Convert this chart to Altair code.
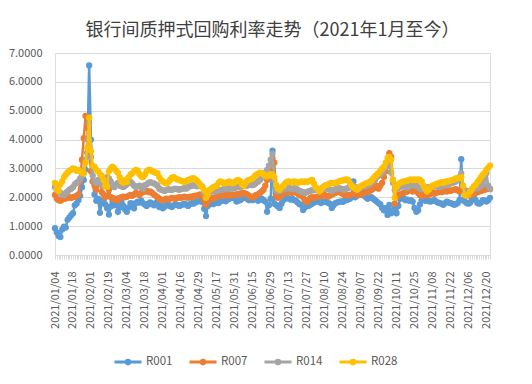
import altair as alt
import pandas as pd

TITLE = "银行间质押式回购利率走势（2021年1月至今）"
SERIES = ["R001", "R007", "R014", "R028"]
COLORS = ["#5B9BD5", "#ED7D31", "#A5A5A5", "#FFC000"]

# trading days (interbank market, 2021)
trading_days = {
    1: [4, 5, 6, 7, 8, 11, 12, 13, 14, 15, 18, 19, 20, 21, 22, 25, 26, 27, 28, 29],
    2: [1, 2, 3, 4, 5, 7, 8, 9, 10, 18, 19, 20, 22, 23, 24, 25, 26],
    3: [1, 2, 3, 4, 5, 8, 9, 10, 11, 12, 15, 16, 17, 18, 19, 22, 23, 24, 25, 26, 29, 30, 31],
    4: [1, 2, 6, 7, 8, 9, 12, 13, 14, 15, 16, 19, 20, 21, 22, 23, 25, 26, 27, 28, 29, 30],
    5: [6, 7, 8, 10, 11, 12, 13, 14, 17, 18, 19, 20, 21, 24, 25, 26, 27, 28, 31],
    6: [1, 2, 3, 4, 7, 8, 9, 10, 11, 15, 16, 17, 18, 21, 22, 23, 24, 25, 28, 29, 30],
    7: [1, 2, 5, 6, 7, 8, 9, 12, 13, 14, 15, 16, 19, 20, 21, 22, 23, 26, 27, 28, 29, 30],
    8: [2, 3, 4, 5, 6, 9, 10, 11, 12, 13, 16, 17, 18, 19, 20, 23, 24, 25, 26, 27, 30, 31],
    9: [1, 2, 3, 6, 7, 8, 9, 10, 13, 14, 15, 16, 17, 18, 22, 23, 24, 26, 27, 28, 29, 30],
    10: [8, 9, 11, 12, 13, 14, 15, 18, 19, 20, 21, 22, 25, 26, 27, 28, 29],
    11: [1, 2, 3, 4, 5, 8, 9, 10, 11, 12, 15, 16, 17, 18, 19, 22, 23, 24, 25, 26, 29, 30],
    12: [1, 2, 3, 6, 7, 8, 9, 10, 13, 14, 15, 16, 17, 20, 21, 22],
}
dates = [f"2021/{m:02d}/{d:02d}" for m, days in trading_days.items() for d in days]

tick_labels = ["2021/01/04", "2021/01/18", "2021/02/01", "2021/02/19", "2021/03/04",
               "2021/03/18", "2021/04/01", "2021/04/16", "2021/04/29", "2021/05/17",
               "2021/05/31", "2021/06/15", "2021/06/29", "2021/07/13", "2021/07/27",
               "2021/08/10", "2021/08/24", "2021/09/07", "2021/09/22", "2021/10/11",
               "2021/10/25", "2021/11/08", "2021/11/22", "2021/12/06", "2021/12/20"]

R001 = [
    0.93, 0.78, 0.66, 0.62, 0.88, 0.98, 0.95, 1.22, 1.30, 1.38,
    1.45, 1.72, 1.78, 1.90, 2.05, 2.35, 2.60, 2.95, 3.55, 6.57,
    4.00, 2.55, 2.10, 1.88, 1.95, 1.46, 1.80, 1.90, 1.75, 1.62,
    1.40, 1.68, 1.85, 1.72, 1.80, 1.50, 1.65, 1.82, 1.70, 1.58,
    1.50, 1.65, 1.80, 1.78, 1.62, 1.80, 1.85, 1.82, 1.88, 1.80,
    1.75, 1.70, 1.78, 1.82, 1.76, 1.72, 1.80, 1.85, 1.66, 1.70,
    1.62, 1.68, 1.72, 1.75, 1.70, 1.66, 1.72, 1.76, 1.74, 1.70,
    1.72, 1.75, 1.78, 1.74, 1.70, 1.76, 1.80, 1.78, 1.82, 1.85,
    1.86, 1.88, 1.84, 1.60, 1.35, 1.70, 1.78, 1.80, 1.76, 1.80,
    1.82, 1.80, 1.86, 1.88, 1.90, 1.86, 1.92, 1.95, 1.98, 2.00,
    1.96, 1.85, 1.88, 1.90, 1.95, 1.98, 2.00, 1.94, 1.90, 1.95,
    1.90, 1.95, 1.98, 1.88, 1.92, 1.95, 1.90, 1.85, 1.50, 1.72,
    1.95, 3.62, 1.78, 1.74, 1.68, 1.63, 1.78, 1.90, 1.95, 1.98,
    1.96, 1.92, 1.95, 1.90, 1.88, 1.82, 1.76, 1.74, 1.56, 1.65,
    1.72, 1.70, 1.74, 1.78, 1.82, 1.84, 1.88, 1.85, 1.80, 1.84,
    1.86, 1.84, 1.80, 1.78, 1.63, 1.72, 1.80, 1.82, 1.84, 1.86,
    1.84, 1.88, 1.90, 1.92, 1.95, 2.00, 2.55, 2.00, 2.05, 2.10,
    2.15, 2.10, 2.05, 2.00, 1.95, 1.98, 2.00, 1.95, 1.90, 1.85,
    1.80, 1.75, 1.63, 1.55, 1.62, 1.39, 1.74, 1.45, 1.55, 1.62,
    1.45, 1.70, 1.95, 2.00, 1.95, 1.90, 1.92, 1.88, 1.90, 1.85,
    1.63, 1.50, 1.55, 1.75, 1.90, 1.92, 1.88, 1.90, 1.86, 1.85,
    1.88, 1.90, 1.85, 1.82, 1.80, 1.78, 1.74, 1.80, 1.85, 1.82,
    1.80, 1.78, 1.74, 1.76, 1.80, 1.90, 3.32, 1.90, 1.85, 1.80,
    1.78, 1.82, 1.95, 1.98, 1.90, 1.80, 1.78, 1.82, 1.90, 1.88,
    1.85, 1.90, 1.98,
]
R007 = [
    2.08, 1.95, 1.90, 1.88, 1.92, 1.95, 1.96, 1.98, 2.00, 1.98,
    2.00, 2.02, 2.05, 2.10, 2.55, 3.30, 4.05, 4.82, 4.40, 3.75,
    2.90, 2.55, 2.40, 2.26, 2.45, 2.55, 2.18, 2.10, 2.00, 2.05,
    2.26, 2.00, 1.98, 1.92, 1.95, 1.90, 1.98, 2.00, 2.02, 2.00,
    2.02, 2.05, 2.08, 2.05, 2.10, 2.15, 2.12, 2.08, 2.15, 2.18,
    2.20, 2.22, 2.18, 2.20, 2.15, 2.10, 2.05, 2.00, 1.95, 1.92,
    1.90, 1.92, 1.95, 1.92, 1.95, 1.98, 1.96, 1.95, 1.98, 2.00,
    1.98, 2.00, 2.02, 2.00, 1.98, 2.02, 2.00, 2.04, 2.06, 2.05,
    2.08, 2.10, 2.06, 1.90, 1.74, 1.85, 1.95, 1.98, 1.95, 2.00,
    2.02, 2.05, 2.04, 2.06, 2.08, 2.05, 2.08, 2.10, 2.06, 2.10,
    2.08, 2.10, 2.12, 2.10, 2.14, 2.15, 2.12, 2.10, 2.05, 2.02,
    2.00, 2.04, 2.08, 2.10, 2.15, 2.20, 2.26, 2.40, 2.60, 2.85,
    3.05, 3.35, 3.20, 2.05, 1.98, 2.00, 2.08, 2.12, 2.15, 2.18,
    2.20, 2.18, 2.15, 2.20, 2.18, 2.12, 2.08, 2.05, 2.00, 1.90,
    1.84, 1.90, 1.98, 2.00, 1.98, 2.00, 2.02, 2.05, 2.04, 2.06,
    2.08, 2.05, 2.02, 2.06, 2.10, 2.12, 2.15, 2.18, 2.20, 2.16,
    2.12, 2.08, 2.10, 2.06, 2.08, 2.10, 2.12, 2.15, 2.10, 2.08,
    2.10, 2.12, 2.15, 2.20, 2.18, 2.22, 2.25, 2.30, 2.35, 2.40,
    2.30, 2.40, 2.50, 2.70, 2.90, 3.20, 3.53, 3.40, 2.60, 1.78,
    2.00, 2.08, 2.10, 2.12, 2.15, 2.18, 2.20, 2.25, 2.26, 2.20,
    2.45, 2.30, 2.15, 2.08, 2.05, 2.10, 2.08, 2.06, 2.10, 2.12,
    2.15, 2.12, 2.15, 2.18, 2.20, 2.18, 2.20, 2.22, 2.20, 2.24,
    2.22, 2.25, 2.26, 2.28, 2.24, 2.20, 2.26, 2.30, 2.15, 2.08,
    2.05, 2.08, 2.10, 2.12, 2.15, 2.18, 2.20, 2.22, 2.24, 2.26,
    2.28, 2.30, 2.28,
]
R014 = [
    2.35, 2.25, 2.20, 2.15, 2.10, 2.08, 2.15, 2.20, 2.26, 2.30,
    2.35, 2.45, 2.50, 2.55, 2.65, 2.75, 2.85, 3.30, 4.00, 4.55,
    3.40, 2.75, 2.55, 2.50, 2.60, 2.50, 2.45, 2.40, 2.55, 2.70,
    2.65, 2.55, 2.40, 2.35, 2.45, 2.50, 2.40, 2.38, 2.36, 2.40,
    2.45, 2.50, 2.53, 2.48, 2.40, 2.36, 2.38, 2.40, 2.35, 2.30,
    2.42, 2.45, 2.50, 2.52, 2.50, 2.48, 2.45, 2.40, 2.30, 2.26,
    2.24, 2.22, 2.25, 2.28, 2.26, 2.25, 2.28, 2.30, 2.28, 2.26,
    2.28, 2.30, 2.32, 2.30, 2.35, 2.38, 2.40, 2.42, 2.40, 2.38,
    2.40, 2.42, 2.35, 2.15, 2.00, 2.10, 2.18, 2.20, 2.22, 2.20,
    2.22, 2.24, 2.25, 2.26, 2.28, 2.30, 2.28, 2.32, 2.30, 2.34,
    2.32, 2.35, 2.36, 2.34, 2.38, 2.40, 2.42, 2.40, 2.43, 2.45,
    2.42, 2.45, 2.50, 2.55, 2.60, 2.68, 2.75, 2.85, 2.95, 3.10,
    3.30, 3.50, 2.60, 2.25, 2.20, 2.22, 2.26, 2.28, 2.30, 2.32,
    2.35, 2.30, 2.28, 2.32, 2.30, 2.26, 2.22, 2.20, 2.18, 2.15,
    2.18, 2.20, 2.22, 2.25, 2.24, 2.26, 2.28, 2.26, 2.24, 2.28,
    2.30, 2.32, 2.28, 2.26, 2.22, 2.25, 2.28, 2.30, 2.32, 2.30,
    2.28, 2.26, 2.30, 2.32, 2.35, 2.38, 2.40, 2.36, 2.32, 2.30,
    2.32, 2.35, 2.38, 2.40, 2.42, 2.45, 2.50, 2.55, 2.60, 2.70,
    2.75, 2.80, 2.85, 2.95, 3.05, 3.20, 3.10, 2.85, 2.50, 2.25,
    2.30, 2.32, 2.35, 2.38, 2.40, 2.36, 2.34, 2.38, 2.40, 2.42,
    2.45, 2.40, 2.35, 2.30, 2.28, 2.30, 2.32, 2.34, 2.36, 2.35,
    2.36, 2.38, 2.40, 2.38, 2.36, 2.38, 2.40, 2.42, 2.44, 2.45,
    2.48, 2.50, 2.52, 2.55, 2.60, 2.70, 2.84, 2.40, 2.25, 2.20,
    2.20, 2.22, 2.25, 2.28, 2.30, 2.32, 2.35, 2.40, 2.45, 2.60,
    2.84, 2.40, 2.30,
]
R028 = [
    2.50, 2.30, 2.22, 2.45, 2.55, 2.70, 2.78, 2.85, 2.92, 2.95,
    3.00, 2.98, 2.92, 2.95, 2.90, 2.85, 2.82, 3.20, 3.70, 4.76,
    3.60, 3.10, 3.05, 2.95, 2.90, 2.80, 2.75, 2.60, 2.40, 2.36,
    2.90, 3.00, 3.06, 3.00, 2.92, 2.85, 2.70, 2.55, 2.50, 2.60,
    2.53, 2.70, 2.78, 2.84, 2.90, 2.95, 2.92, 2.80, 2.72, 2.70,
    2.78, 2.90, 2.95, 2.95, 2.90, 2.88, 2.85, 2.84, 2.70, 2.60,
    2.55, 2.50, 2.48, 2.52, 2.60, 2.68, 2.70, 2.65, 2.62, 2.60,
    2.58, 2.55, 2.53, 2.56, 2.60, 2.62, 2.65, 2.66, 2.62, 2.58,
    2.50, 2.40, 2.36, 2.25, 1.98, 2.10, 2.25, 2.30, 2.35, 2.38,
    2.40, 2.50, 2.55, 2.52, 2.48, 2.50, 2.52, 2.55, 2.50, 2.48,
    2.52, 2.58, 2.60, 2.55, 2.45, 2.40, 2.50, 2.58, 2.60, 2.62,
    2.65, 2.72, 2.78, 2.82, 2.85, 2.84, 2.80, 2.75, 2.72, 2.76,
    2.80, 2.78, 2.70, 2.43, 2.30, 2.26, 2.35, 2.40, 2.48, 2.53,
    2.55, 2.53, 2.52, 2.55, 2.53, 2.50, 2.52, 2.55, 2.53, 2.55,
    2.53, 2.55, 2.58, 2.60, 2.48, 2.35, 2.30, 2.20, 2.26, 2.35,
    2.40, 2.43, 2.45, 2.48, 2.50, 2.48, 2.50, 2.52, 2.55, 2.58,
    2.58, 2.60, 2.62, 2.60, 2.50, 2.40, 2.35, 2.30, 2.26, 2.32,
    2.38, 2.42, 2.45, 2.48, 2.50, 2.53, 2.58, 2.65, 2.72, 2.78,
    2.84, 2.92, 3.00, 3.06, 3.20, 3.36, 3.40, 3.30, 2.60, 1.98,
    2.36, 2.45, 2.50, 2.53, 2.55, 2.56, 2.58, 2.60, 2.62, 2.60,
    2.62, 2.60, 2.62, 2.60, 2.55, 2.40, 2.30, 2.20, 2.26, 2.35,
    2.40, 2.43, 2.45, 2.48, 2.50, 2.52, 2.50, 2.53, 2.55, 2.56,
    2.58, 2.60, 2.62, 2.65, 2.67, 2.66, 2.70, 2.40, 2.08, 2.05,
    2.10, 2.20, 2.30, 2.38, 2.43, 2.52, 2.60, 2.70, 2.78, 2.85,
    2.95, 3.02, 3.10,
]

values = {"R001": R001, "R007": R007, "R014": R014, "R028": R028}
rows = []
for s in SERIES:
    for d, v in zip(dates, values[s]):
        rows.append({"date": d, "series": s, "value": v})
df = pd.DataFrame(rows)

FONT = "Noto Sans CJK SC"
label_js = "[" + ",".join(f"'{t}'" for t in tick_labels) + "]"

x_enc = alt.X(
    "date:O", sort=dates,
    scale=alt.Scale(type="point", padding=0),
    axis=alt.Axis(title=None, labelAngle=-90, labelOverlap=False,
                  labelExpr=f"indexof({label_js}, datum.value) >= 0 ? datum.value : ''",
                  ticks=True, tickColor="#d9d9d9", tickSize=4, domainColor="#d9d9d9",
                  labelColor="#595959", labelFontSize=11, labelPadding=12, grid=False,
                  labelFont=FONT),
)
y_enc = alt.Y(
    "value:Q", scale=alt.Scale(domain=[0, 7]),
    axis=alt.Axis(title=None, values=[0, 1, 2, 3, 4, 5, 6, 7], format=".4f",
                  domain=False, ticks=False, gridColor="#d9d9d9", labelColor="#595959",
                  labelPadding=13, labelFontSize=11, labelFont=FONT),
)
color_enc = alt.Color(
    "series:N", scale=alt.Scale(domain=SERIES, range=COLORS),
    legend=alt.Legend(title=None, orient="none", direction="horizontal",
                      legendX=58, legendY=294, gridAlign="all",
                      symbolType="M-1,0H1M0.13,0A0.13,0.13,0,1,1,-0.13,0A0.13,0.13,0,1,1,0.13,0",
                      symbolSize=729, symbolStrokeWidth=3, labelFontSize=11.5,
                      labelColor="#595959", labelFont=FONT, columnPadding=10,
                      labelOffset=3),
)

base = alt.Chart(df).encode(x=x_enc, y=y_enc, color=color_enc)
layers = []
for s in SERIES:
    sub = base.transform_filter(alt.datum.series == s)
    layers.append(sub.mark_line(strokeWidth=2.5))
    layers.append(sub.mark_point(filled=True, size=40, opacity=1))

chart = alt.layer(*layers).properties(
    width=435, height=202,
    title=alt.TitleParams(TITLE, fontSize=18, font=FONT, color="#404040",
                          fontWeight="normal", anchor="middle", offset=16,
                          baseline="alphabetic", dy=23),
    autosize=alt.AutoSizeParams(type="none"),
    padding={"left": 47, "top": 45, "right": 34, "bottom": 121},
).configure_view(stroke=None).configure(font=FONT)

chart.save("out.html", embed_options={"renderer": "svg", "actions": False})
